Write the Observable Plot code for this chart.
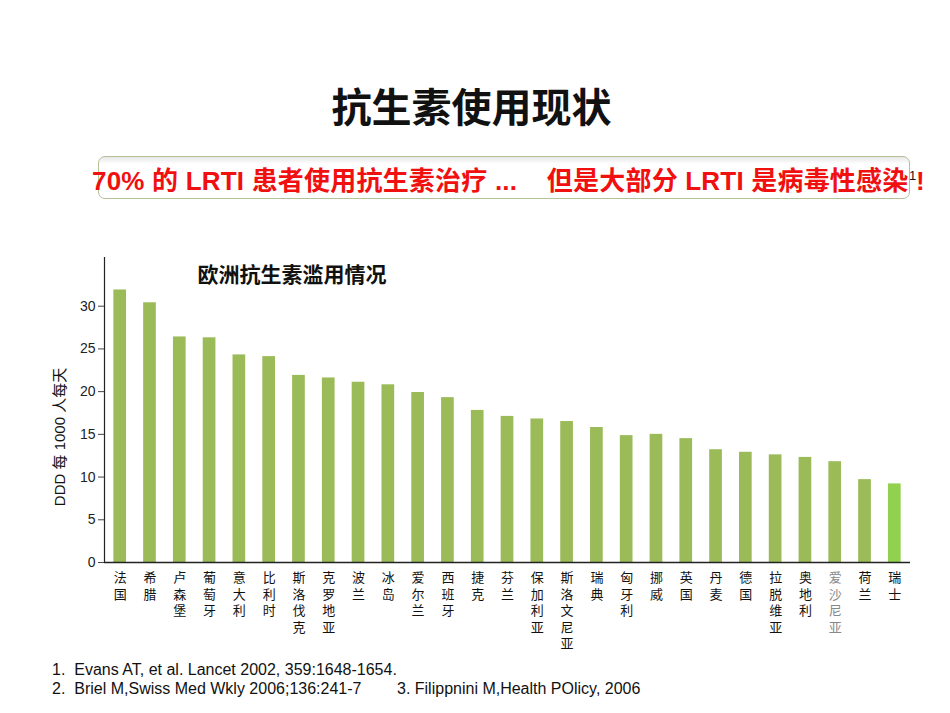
<!DOCTYPE html>
<html>
<head>
<meta charset="utf-8">
<script src="https://cdn.jsdelivr.net/npm/d3@7"></script>
<script src="https://cdn.jsdelivr.net/npm/@observablehq/plot@0.6"></script>
<style>
  html, body { margin: 0; padding: 0; background: #fff; }
  #page { position: relative; width: 950px; height: 713px; overflow: hidden; background: #fff;
          font-family: "Liberation Sans", "Noto Sans CJK SC", sans-serif; }
  #title { position: absolute; left: 0; width: 943px; top: 78px; text-align: center;
           font-family: "Noto Sans CJK SC", sans-serif; font-weight: 700; font-size: 40px; line-height: 54px; color: #111; }
  #banner { position: absolute; left: 98px; top: 156px; width: 812px; height: 43px; box-sizing: border-box;
            border: 1.5px solid #b4c196; border-radius: 7px;
            background: linear-gradient(to bottom, #e8e8e8 0px, #f4f4f4 4px, #ffffff 7px, #ffffff 100%); }
  #bannerText { position: absolute; left: 92px; top: 165px; white-space: pre; font-weight: 700; font-size: 26px;
                line-height: 32px; color: #f01010; font-family: "Liberation Sans", "Noto Sans CJK SC", sans-serif; letter-spacing: 0.2px; }
  #sup { position: absolute; left: 909px; top: 168px; font-size: 13px; color: #111; }
  #excl { position: absolute; left: 916px; top: 165px; font-size: 26px; font-weight: 700; line-height: 32px; color: #f01010; }
  #chart { position: absolute; left: 0; top: 240px; }
  #ylabel { position: absolute; left: 60px; top: 437px; width: 0; height: 0; }
  #ylabel span { position: absolute; left: 0; top: 0; transform: translate(-50%, -50%) rotate(-90deg);
                 white-space: pre; font-size: 15px; line-height: 18px; color: #111; }
  .fn { position: absolute; font-size: 16px; color: #111; white-space: pre; line-height: 19px; }
</style>
</head>
<body>
<div id="page">
  <div id="title"></div>
  <div id="banner"></div>
  <div id="bannerText"></div>
  <div id="sup">1</div>
  <div id="excl">!</div>
  <div id="chart"></div>
  <div id="ylabel"><span></span></div>
  <div class="fn" id="fn1" style="left:52px; top:660px;"></div>
  <div class="fn" id="fn2" style="left:52px; top:679px;"></div>
  <div class="fn" id="fn3" style="left:397px; top:679px;"></div>
</div>
<script>
const pageTitle = "抗生素使用现状";
const bannerLine = "70% 的 LRTI 患者使用抗生素治疗 ...    但是大部分 LRTI 是病毒性感染";
const chartTitle = "欧洲抗生素滥用情况";
const yLabel = "DDD 每 1000 人每天";
const footnotes = [
  "1.  Evans AT, et al. Lancet 2002, 359:1648-1654.",
  "2.  Briel M,Swiss Med Wkly 2006;136:241-7",
  "3. Filippnini M,Health POlicy, 2006"
];

const countries = ["法国","希腊","卢森堡","葡萄牙","意大利","比利时","斯洛伐克","克罗地亚","波兰","冰岛",
  "爱尔兰","西班牙","捷克","芬兰","保加利亚","斯洛文尼亚","瑞典","匈牙利","挪威","英国",
  "丹麦","德国","拉脱维亚","奥地利","爱沙尼亚","荷兰","瑞士"];
const values = [31.9,30.4,26.4,26.3,24.3,24.1,21.9,21.6,21.1,20.8,
  19.9,19.3,17.8,17.1,16.8,16.5,15.8,14.85,15.0,14.5,
  13.2,12.9,12.6,12.3,11.8,9.7,9.2];
const yTicks = [0,5,10,15,20,25,30];
const highlightCountry = "瑞士";
const grayLabelCountry = "爱沙尼亚";

document.getElementById("title").textContent = pageTitle;
document.getElementById("bannerText").textContent = bannerLine;
document.querySelector("#ylabel span").textContent = yLabel;
document.getElementById("fn1").textContent = footnotes[0];
document.getElementById("fn2").textContent = footnotes[1];
document.getElementById("fn3").textContent = footnotes[2];

const data = countries.map((c, i) => ({country: c, value: values[i]}));

const chart = Plot.plot({
  width: 950,
  height: 420,
  marginLeft: 104,
  marginRight: 40,
  marginTop: 17,
  marginBottom: 98,
  style: {fontFamily: '"Liberation Sans", "Noto Sans CJK SC", sans-serif', color: "#222", background: "transparent"},
  x: {domain: countries, paddingInner: 0.574, paddingOuter: 0.314, round: false},
  y: {domain: [0, 35.7]},
  marks: [
    Plot.barY(data, {x: "country", y: "value",
      fill: d => d.country === highlightCountry ? "#92d050" : "#9bbb59"}),
    Plot.ruleY([0], {stroke: "#222", strokeWidth: 1.5}),
    Plot.frame({anchor: "left", stroke: "#222", strokeWidth: 1.2}),
    Plot.axisY({ticks: yTicks, tickSize: 6, tickPadding: 3, fontSize: 14, label: null, stroke: "#444"}),
    Plot.axisX({tickSize: 0, tickPadding: 8, fontSize: 13, lineHeight: 1.27, label: null,
      tickFormat: d => d.split("").join("\n"),
      fill: d => d === grayLabelCountry ? "#888" : "#111"}),
    Plot.text([chartTitle], {frameAnchor: "top-left", dx: 93, dy: 10, textAnchor: "start",
      fontSize: 21, fontWeight: "bold", fill: "#111"})
  ]
});
document.getElementById("chart").appendChild(chart);
</script>
</body>
</html>
